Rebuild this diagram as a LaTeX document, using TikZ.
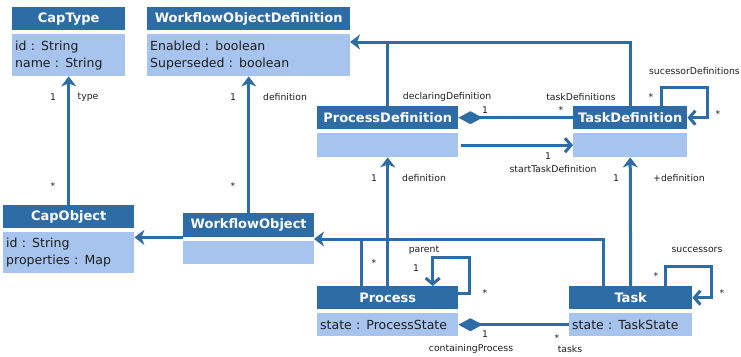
\documentclass[tikz,border=0pt]{standalone}
\usepackage{fontspec}
\setmainfont{DejaVu Sans}
\usetikzlibrary{arrows.meta}
\definecolor{hdr}{HTML}{2E6CA6}
\definecolor{bodybg}{HTML}{A6C4EE}
\definecolor{ink}{HTML}{1E1E1E}
\tikzset{
  head/.style={fill=hdr, text=white, anchor=north west, inner sep=0pt, minimum height=23pt, font=\fontsize{13}{15}\selectfont\bfseries},
  body/.style={fill=bodybg, text=ink, anchor=north west, inner xsep=3pt, inner ysep=0pt, align=left, font=\fontsize{12.5}{17}\selectfont},
  line/.style={draw=hdr, line width=3pt},
  gen/.style={line, -{Stealth[length=10pt, width=15pt, inset=3pt]}},
  assoc/.style={line, -{Straight Barb[length=6pt, width=14pt]}},
  comp/.style={line, {Diamond[length=24pt, width=13pt]}-},
  lab/.style={text=ink, inner sep=0pt, font=\fontsize{9.3}{11}\selectfont},
}
\begin{document}
\begin{tikzpicture}[x=1pt, y=-1pt]
  \useasboundingbox (0,0) rectangle (741,356);
  % classes
  \node[head, minimum width=113pt] (capType) at (12,7) {CapType};
  \node[body, minimum height=42pt, text width=107pt] (capTypeBody) at (12,34) {id : String\\name : String};
  \node[head, minimum width=203pt] (wfDef) at (147,7) {WorkflowObjectDefinition};
  \node[body, minimum height=42pt, text width=197pt] (wfDefBody) at (147,34) {Enabled : boolean\\Superseded : boolean};
  \node[head, minimum width=141pt] (procDef) at (317,106) {ProcessDefinition};
  \node[body, minimum height=24pt, minimum width=141pt] (procDefBody) at (317,133) {};
  \node[head, minimum width=114pt] (taskDef) at (573,106) {TaskDefinition};
  \node[body, minimum height=24pt, minimum width=114pt] (taskDefBody) at (573,133) {};
  \node[head, minimum width=131pt] (capObject) at (3,205) {CapObject};
  \node[body, minimum height=41pt, text width=125pt] (capObjectBody) at (3,232) {id : String\\properties : Map};
  \node[head, minimum width=131pt, minimum height=24pt] (wfObject) at (183,213) {WorkflowObject};
  \node[body, minimum height=23pt, minimum width=131pt] (wfObjectBody) at (183,241) {};
  \node[head, minimum width=141pt] (process) at (317,286) {Process};
  \node[body, minimum height=23pt, text width=135pt] (processBody) at (317,313) {state : ProcessState};
  \node[head, minimum width=123pt] (task) at (569,286) {Task};
  \node[body, minimum height=23pt, text width=117pt] (taskBody) at (569,313) {state : TaskState};

  % generalisations
  \coordinate (genWO) at (314,239);
  \coordinate (genWOD) at (350,42);
  \draw[gen] (wfObject.south west) -- (wfObject.south west -| capObjectBody.east);
  \draw[gen] ([xshift=-27pt]task.north) |- (genWO);
  \draw[line] ([xshift=-26pt]process.north) -- ([xshift=-26pt]process.north |- genWO);
  \draw[gen] (taskDef.north) |- (genWOD);
  \draw[line] (procDef.north) -- (procDef.north |- genWOD);

  % associations
  \draw[gen] (capObject.north) -- (capTypeBody.south);
  \node[lab] (typeOne) at (53,97) {1};
  \node[lab] (typeName) at (88,97) {type};
  \node[lab] (typeMany) at (53,186) {*};

  \draw[gen] (wfObject.north) -- (wfDefBody.south);
  \node[lab] (defOne) at (233,97) {1};
  \node[lab] (defName) at (285,97) {definition};
  \node[lab] (defMany) at (233,186) {*};

  \draw[gen] (process.north) -- (procDefBody.south);
  \node[lab] (pdOne) at (374,178) {1};
  \node[lab] (pdName) at (424,178) {definition};
  \node[lab] (pdMany) at (374,263) {*};

  \draw[gen] (task.north) -- (taskDefBody.south);
  \node[lab] (tdOne) at (616,178) {1};
  \node[lab] (tdName) at (679,178) {+definition};

  \draw[comp] (procDef.east) -- (taskDef.west);
  \node[lab] (declName) at (447,97) {declaringDefinition};
  \node[lab] (declOne) at (485,110) {1};
  \node[lab] (tdsName) at (581,97) {taskDefinitions};
  \node[lab] (tdsMany) at (561,110) {*};

  \draw[assoc] ([xshift=3pt]procDefBody.east) -- (taskDefBody.west);
  \node[lab] (startOne) at (548,156) {1};
  \node[lab] (startName) at (553,169) {startTaskDefinition};

  \draw[assoc] ([xshift=31pt]taskDef.north) -- ++(0,-19) -- ++(46,0) |- (taskDef.east);
  \node[lab, anchor=east] (sdName) at (740,71) {sucessorDefinitions};
  \node[lab] (sdManyA) at (651,97) {*};
  \node[lab] (sdManyB) at (718,114) {*};

  \draw[assoc] ([yshift=4pt]process.east) -- ++(11,0) -- ++(0,-36) -| ([xshift=45pt]process.north);
  \node[lab] (parentName) at (424,250) {parent};
  \node[lab] (parentOne) at (416,268) {1};
  \node[lab] (parentMany) at (485,293) {*};

  \draw[assoc] ([xshift=35pt]task.north) -- ++(0,-20) -- ++(46,0) |- (task.east);
  \node[lab] (succName) at (697,250) {successors};
  \node[lab] (succManyA) at (656,276) {*};
  \node[lab] (succManyB) at (722,293) {*};

  \draw[comp] (processBody.east) -- (taskBody.west);
  \node[lab] (cpOne) at (485,334) {1};
  \node[lab] (cpName) at (471,349) {containingProcess};
  \node[lab] (tasksMany) at (557,338) {*};
  \node[lab] (tasksName) at (570,349) {tasks};
\end{tikzpicture}
\end{document}
